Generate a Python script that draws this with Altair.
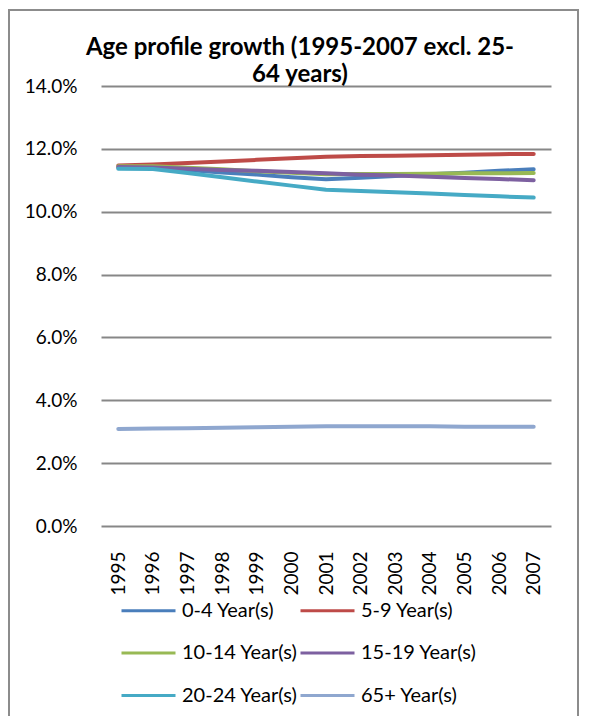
import altair as alt
import pandas as pd

years = [str(y) for y in range(1995, 2008)]
series = ["0-4 Year(s)", "5-9 Year(s)", "10-14 Year(s)", "15-19 Year(s)", "20-24 Year(s)", "65+ Year(s)"]
colors = ["#4A7EBB", "#BE4B48", "#98B954", "#7D60A0", "#46AAC5", "#8FA7CF"]

v_0_4 = [11.40, 11.40, 11.33, 11.25, 11.18, 11.10, 11.03, 11.08, 11.14, 11.19, 11.24, 11.30, 11.35]
v_5_9 = [11.47, 11.50, 11.55, 11.60, 11.65, 11.70, 11.75, 11.77, 11.78, 11.80, 11.81, 11.83, 11.84]
v_10_14 = [11.45, 11.45, 11.40, 11.35, 11.29, 11.24, 11.19, 11.20, 11.20, 11.21, 11.22, 11.22, 11.23]
v_15_19 = [11.42, 11.41, 11.37, 11.33, 11.30, 11.26, 11.22, 11.18, 11.15, 11.11, 11.07, 11.04, 11.00]
v_20_24 = [11.37, 11.36, 11.23, 11.10, 10.96, 10.83, 10.70, 10.66, 10.62, 10.58, 10.53, 10.49, 10.45]
v_65 = [3.09, 3.10, 3.11, 3.13, 3.14, 3.16, 3.17, 3.17, 3.17, 3.17, 3.16, 3.16, 3.16]

y_ticks = [0, 0.02, 0.04, 0.06, 0.08, 0.10, 0.12, 0.14]
title_lines = ["Age profile growth (1995-2007 excl. 25-", "64 years)"]

rows = []
for s, vals in zip(series, [v_0_4, v_5_9, v_10_14, v_15_19, v_20_24, v_65]):
    for yr, v in zip(years, vals):
        rows.append({"Year": yr, "Series": s, "Value": v / 100})
df = pd.DataFrame(rows)

FONT = "Lato"

lines = alt.Chart(df).mark_line(strokeWidth=4, strokeCap="round", strokeJoin="round").encode(
    x=alt.X("Year:O", scale=alt.Scale(type="point", padding=0.5, domain=years),
            axis=alt.Axis(title=None, labelAngle=270, labelPadding=25, ticks=False, domain=False,
                          grid=False, labelFont=FONT, labelFontSize=19, labelColor="black")),
    y=alt.Y("Value:Q", scale=alt.Scale(domain=[0, 0.14], nice=False),
            axis=alt.Axis(title=None, values=y_ticks, format=".1%", ticks=False, domain=False,
                          grid=True, gridColor="#878787", gridWidth=2, labelPadding=24,
                          labelFont=FONT, labelFontSize=19, labelColor="black")),
    color=alt.Color("Series:N", scale=alt.Scale(domain=series, range=colors),
                    legend=alt.Legend(orient="none", legendX=19, legendY=496, columns=2,
                                      direction="horizontal",
                                      symbolType="stroke", symbolSize=2916, symbolStrokeWidth=3,
                                      labelFont=FONT, labelFontSize=20, labelColor="black",
                                      columnPadding=-4, rowPadding=3.5, title=None, padding=0,
                                      labelOffset=5, labelLimit=0)),
)

frame_df = pd.DataFrame({"a": [0]})
frame = alt.Chart(frame_df).mark_rect(filled=False, stroke="#8C8C8C", strokeWidth=2).encode(
    x=alt.value(-92), x2=alt.value(477), y=alt.value(-76), y2=alt.value(680)
)

title_df = pd.DataFrame({"t": title_lines, "yy": [-31.5, -4]})
title = alt.Chart(title_df).mark_text(font=FONT, fontSize=24, fontWeight="bold", color="black",
                                      align="center", baseline="alphabetic").encode(
    text="t:N", x=alt.value(199), y=alt.Y("yy:Q", scale=None)
)

chart = alt.layer(frame, lines, title).properties(
    width=450, height=440,
    padding={"left": 93, "top": 78, "right": 30, "bottom": 190},
    autosize=alt.AutoSizeParams(type="none"),
).configure_view(stroke=None)

chart.save("out.html", embed_options={"renderer": "svg", "actions": False})
